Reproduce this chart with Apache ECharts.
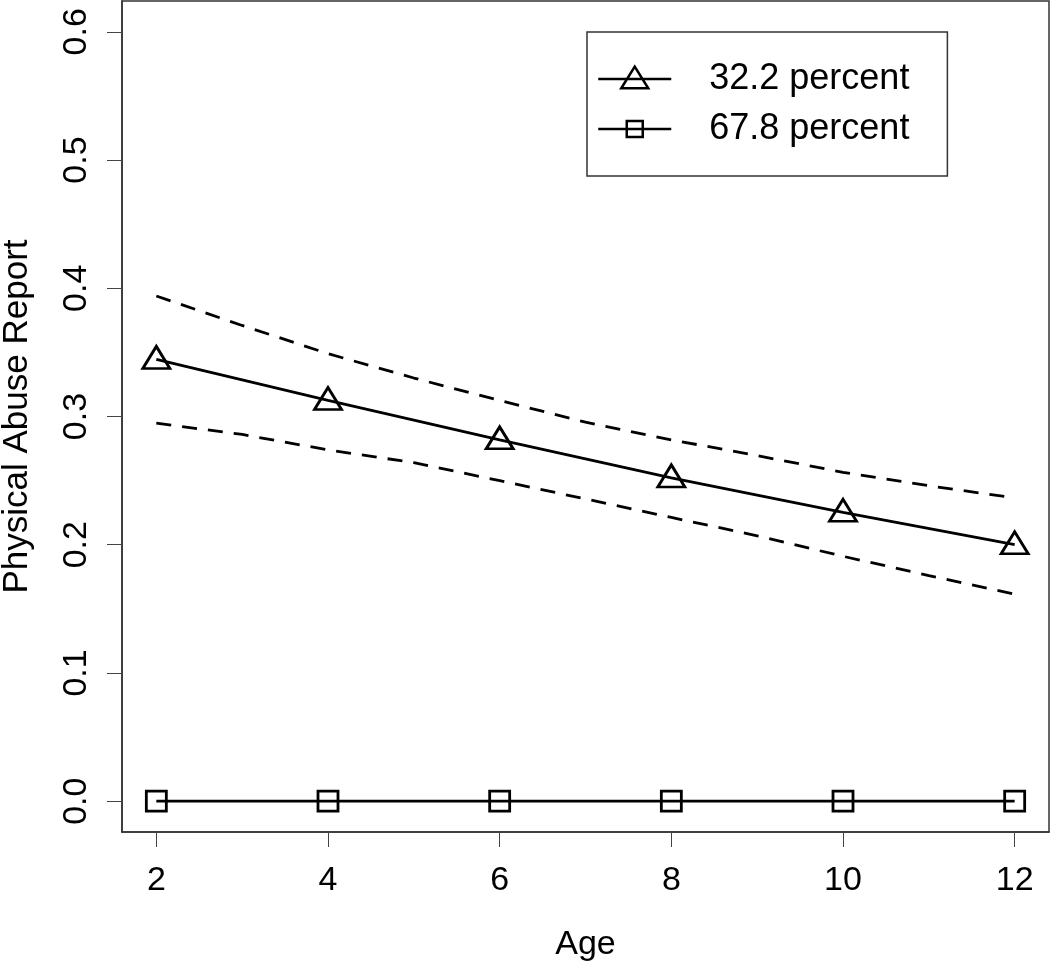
<!DOCTYPE html>
<html>
<head>
<meta charset="utf-8">
<script src="https://cdn.jsdelivr.net/npm/echarts@6/dist/echarts.min.js"></script>
<style>
html,body{margin:0;padding:0;background:#fff;}
#c{width:1050px;height:966px;}
</style>
</head>
<body>
<div id="c"></div>
<script>
// ---- data ----
var ages = [2, 4, 6, 8, 10, 12];
var group1Name = '32.2 percent';
var group2Name = '67.8 percent';
var group1 = [0.3445, 0.3125, 0.2818, 0.2521, 0.2253, 0.200];
var group2 = [0, 0, 0, 0, 0, 0];
var ciAges = [2, 3, 4, 5, 6, 7, 8, 9, 10, 11, 12];
var ciUpper = [0.394, 0.371, 0.349, 0.330, 0.3125, 0.2956, 0.2818, 0.2695, 0.2565, 0.246, 0.2365];
var ciLower = [0.2948, 0.286, 0.274, 0.264, 0.250, 0.2357, 0.2213, 0.207, 0.191, 0.176, 0.1615];
var xTicks = [2, 4, 6, 8, 10, 12];
var yTicks = [0, 0.1, 0.2, 0.3, 0.4, 0.5, 0.6];
var xTitle = 'Age';
var yTitle = 'Physical Abuse Report';

function pairs(xs, ys) { return xs.map(function (x, i) { return [x, ys[i]]; }); }

var FONT = '"Liberation Sans", Arial, Helvetica, sans-serif';
var chart = echarts.init(document.getElementById('c'), null, {renderer: 'canvas'});

var triIcon = 'path://M0,0M73,32M0,16L73,16M36.5,3.7L50,25.3L23,25.3Z';
var sqIcon = 'path://M0,0M73,32M0,16L73,16M28.5,8L44.5,8L44.5,24L28.5,24Z';

chart.setOption({
  animation: false,
  backgroundColor: '#fff',
  textStyle: {fontFamily: FONT, color: '#000'},
  grid: {left: 122, right: 1, top: 1, bottom: 134, show: true, borderColor: '#333', borderWidth: 1.5,
    containLabel: false, outerBoundsMode: 'none'},
  xAxis: {
    type: 'value', min: 1.6, max: 12.4,
    name: xTitle, nameLocation: 'middle', nameGap: 96,
    nameTextStyle: {fontSize: 34, color: '#000', fontFamily: FONT},
    axisLine: {show: true, onZero: false, lineStyle: {color: '#333', width: 1.5}},
    axisTick: {show: true, inside: false, length: 15, customValues: xTicks, lineStyle: {color: '#444', width: 1}},
    axisLabel: {show: true, margin: 32, fontSize: 34, color: '#000', fontFamily: FONT, customValues: xTicks,
      formatter: function (v) { return String(v); }},
    splitLine: {show: false}
  },
  yAxis: {
    type: 'value', min: -0.024, max: 0.624,
    name: yTitle, nameLocation: 'middle', nameGap: 87, nameRotate: 90,
    nameTextStyle: {fontSize: 35, color: '#000', fontFamily: FONT},
    axisLine: {show: true, onZero: false, lineStyle: {color: '#333', width: 1.5}},
    axisTick: {show: true, inside: false, length: 15, customValues: yTicks, lineStyle: {color: '#444', width: 1}},
    axisLabel: {show: true, rotate: 90, margin: 28, fontSize: 34, color: '#000', fontFamily: FONT, customValues: yTicks,
      formatter: function (v) { return v.toFixed(1); }},
    splitLine: {show: false}
  },
  legend: {
    show: true, orient: 'vertical', left: 587, top: 32,
    padding: [29, 38, 29, 10],
    borderColor: '#333', borderWidth: 1.5, backgroundColor: '#fff',
    itemWidth: 73, itemHeight: 32, itemGap: 14,
    selectedMode: false,
    textStyle: {fontSize: 36, color: '#000', fontFamily: FONT, padding: [0, 0, 0, 33]},
    itemStyle: {color: 'rgba(0,0,0,0)', borderColor: '#000', borderWidth: 2.5},
    data: [
      {name: group1Name, icon: triIcon, itemStyle: {color: 'rgba(0,0,0,0)', borderColor: '#000', borderWidth: 2.5}},
      {name: group2Name, icon: sqIcon, itemStyle: {color: 'rgba(0,0,0,0)', borderColor: '#000', borderWidth: 2.5}}
    ]
  },
  series: [
    {
      name: 'upper', type: 'line', data: pairs(ciAges, ciUpper), symbol: 'none', silent: true,
      lineStyle: {color: '#000', width: 2.8, type: [15, 11]}
    },
    {
      name: 'lower', type: 'line', data: pairs(ciAges, ciLower), symbol: 'none', silent: true,
      lineStyle: {color: '#000', width: 2.8, type: [15, 11]}
    },
    {
      name: group1Name, type: 'line', data: pairs(ages, group1),
      symbol: 'triangle', symbolSize: [27, 22], symbolOffset: [0, -2],
      itemStyle: {color: 'rgba(0,0,0,0)', borderColor: '#000', borderWidth: 2.8},
      lineStyle: {color: '#000', width: 2.8}
    },
    {
      name: group2Name, type: 'line', data: pairs(ages, group2),
      symbol: 'rect', symbolSize: 20,
      itemStyle: {color: 'rgba(0,0,0,0)', borderColor: '#000', borderWidth: 2.8},
      lineStyle: {color: '#000', width: 2.8}
    }
  ]
});
</script>
</body>
</html>
